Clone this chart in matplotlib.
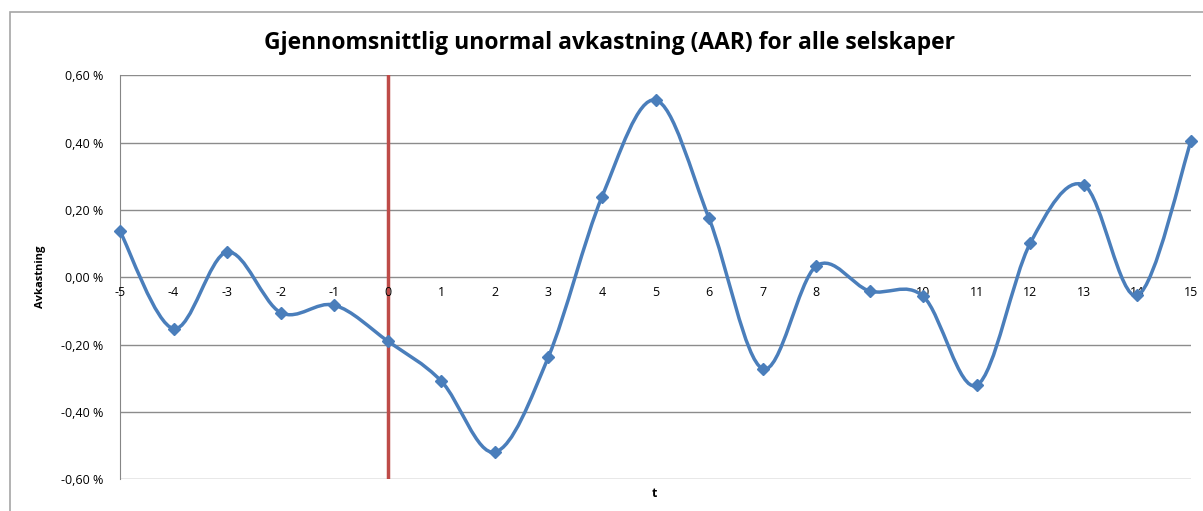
import numpy as np
import matplotlib.pyplot as plt
from matplotlib.path import Path
from matplotlib.patches import PathPatch, Rectangle

t = [-5, -4, -3, -2, -1, 0, 1, 2, 3, 4, 5, 6, 7, 8, 9, 10, 11, 12, 13, 14, 15]
aar = [0.137, -0.153, 0.075, -0.105, -0.083, -0.190, -0.309, -0.520, -0.237, 0.239,
       0.527, 0.175, -0.272, 0.033, -0.041, -0.057, -0.321, 0.102, 0.274, -0.054, 0.405]
yticks = [-0.6, -0.4, -0.2, 0.0, 0.2, 0.4, 0.6]

blue = '#4a7ebb'
plt.rcParams['font.family'] = ['Open Sans', 'DejaVu Sans']

fig = plt.figure(figsize=(12.03, 5.11), dpi=100)
W, H = 1203, 511
ax = fig.add_axes([120 / W, 1 - 479 / H, (1191 - 120) / W, (479 - 75.5) / H])

# outer chart border
fig.patches.append(Rectangle((10 / W, -0.1), 1.2, 1 - 12 / H + 0.1, transform=fig.transFigure,
                             fill=False, edgecolor='#a6a6a6', linewidth=1.2))

ax.set_xlim(-5, 15)
ax.set_ylim(-0.6, 0.6)
for s in ['top', 'right', 'bottom']:
    ax.spines[s].set_visible(False)
ax.spines['left'].set_color('#868686')
ax.set_yticks(yticks)
ax.set_yticklabels([f'{v:.2f} %'.replace('.', ',') for v in yticks], fontsize=9)
ax.tick_params(axis='y', length=0, pad=12)
ax.set_xticks([])
for v in yticks:
    ax.axhline(v, color='#8c8c8c', linewidth=1.0, zorder=1)

# x tick labels along the zero line
for x in t:
    ax.text(x, -0.025, str(x), ha='center', va='top', fontsize=9)

# event line
ax.axvline(0, color='#be4b48', linewidth=2.5, zorder=2)

# smoothed line (cardinal bezier, Excel style)
x = np.array(t, dtype=float)
y = np.array(aar)
verts = [(x[0], y[0])]
codes = [Path.MOVETO]
n = len(x)
for i in range(n - 1):
    x0, y0 = (x[i - 1], y[i - 1]) if i > 0 else (x[i], y[i])
    x3, y3 = (x[i + 2], y[i + 2]) if i + 2 < n else (x[i + 1], y[i + 1])
    c1 = (x[i] + (x[i + 1] - x0) / 6, y[i] + (y[i + 1] - y0) / 6)
    c2 = (x[i + 1] - (x3 - x[i]) / 6, y[i + 1] - (y3 - y[i]) / 6)
    verts += [c1, c2, (x[i + 1], y[i + 1])]
    codes += [Path.CURVE4] * 3
ax.add_patch(PathPatch(Path(verts, codes), fill=False, edgecolor=blue, linewidth=2.5, zorder=3,
                       clip_on=False))
ax.plot(t, aar, linestyle='none', marker='D', markersize=6, color=blue, zorder=4, clip_on=False)

fig.text(610 / W, 1 - 43 / H, 'Gjennomsnittlig unormal avkastning (AAR) for alle selskaper',
         ha='center', va='center', fontsize=16.5, fontweight='bold')
fig.text(40 / W, 1 - 277 / H, 'Avkastning', rotation=90, ha='center', va='center',
         fontsize=8, fontweight='bold')
fig.text(654 / W, 1 - 493 / H, 't', ha='center', va='center', fontsize=9, fontweight='bold')

fig.savefig('out.png', dpi=100)
